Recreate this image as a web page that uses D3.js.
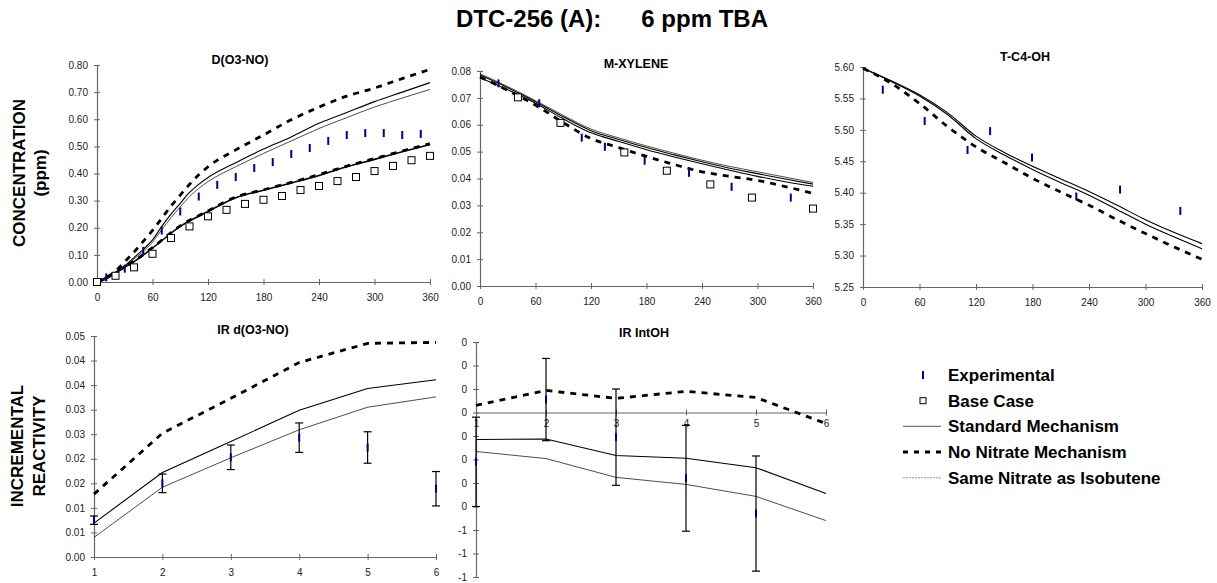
<!DOCTYPE html>
<html>
<head>
<meta charset="utf-8">
<script src="https://cdn.jsdelivr.net/npm/d3@7.9.0/dist/d3.min.js"></script>
<style>
  body { margin: 0; background: #fff; }
  svg { font-family: "Liberation Sans", Arial, sans-serif; }
  .tick text { font-size: 10px; fill: #222; }
  .domain, .tick line { stroke: #666; }
</style>
</head>
<body>
<svg id="chart" width="1217" height="583"></svg>
<script>
// ---- data ----
const tMin = [0, 60, 120, 180, 240, 300, 360];

// D(O3-NO)
const dTimes = [0, 10, 20, 30, 40, 50, 60, 70, 80, 90, 100, 110, 120, 150, 180, 210, 240, 270, 300, 330, 360];
const dStd = [0, 0.01, 0.035, 0.06, 0.09, 0.12, 0.155, 0.205, 0.25, 0.29, 0.33, 0.36, 0.385, 0.44, 0.49, 0.535, 0.585, 0.625, 0.665, 0.70, 0.735];
const dSame = [0, 0.01, 0.033, 0.057, 0.085, 0.113, 0.147, 0.193, 0.237, 0.277, 0.315, 0.345, 0.37, 0.425, 0.474, 0.52, 0.566, 0.606, 0.645, 0.678, 0.71];
const dNoNit = [0, 0.015, 0.04, 0.075, 0.11, 0.15, 0.19, 0.235, 0.28, 0.32, 0.36, 0.395, 0.425, 0.487, 0.542, 0.598, 0.645, 0.685, 0.715, 0.75, 0.784];
const dBaseTimes = [0, 20, 40, 60, 90, 120, 150, 180, 210, 240, 270, 300, 330, 360];
const dBaseStd = [0, 0.035, 0.075, 0.125, 0.205, 0.26, 0.311, 0.338, 0.365, 0.393, 0.425, 0.452, 0.48, 0.507];
const dBaseNoNit = [0, 0.036, 0.077, 0.127, 0.207, 0.262, 0.313, 0.34, 0.367, 0.396, 0.427, 0.455, 0.483, 0.51];
const dExpT = [10, 30, 50, 70, 90, 110, 130, 150, 170, 190, 210, 230, 250, 270, 290, 310, 330, 350];
const dExp = [0.017, 0.049, 0.115, 0.19, 0.26, 0.315, 0.358, 0.387, 0.42, 0.442, 0.472, 0.494, 0.52, 0.542, 0.549, 0.549, 0.542, 0.546];
const dBaseExpT = [0, 20, 40, 60, 80, 100, 120, 140, 160, 180, 200, 220, 240, 260, 280, 300, 320, 340, 360];
const dBaseExp = [0, 0.023, 0.054, 0.104, 0.162, 0.205, 0.242, 0.266, 0.288, 0.303, 0.317, 0.339, 0.354, 0.372, 0.387, 0.409, 0.428, 0.449, 0.465];

// M-XYLENE
const mTimes = [0, 30, 60, 90, 120, 150, 180, 210, 240, 270, 300, 330, 360];
const mStd = [0.0785, 0.0738, 0.0686, 0.0630, 0.0578, 0.0545, 0.0515, 0.0488, 0.0462, 0.0438, 0.0418, 0.0398, 0.0379];
const mSame = [0.0790, 0.0742, 0.0690, 0.0635, 0.0584, 0.0551, 0.0521, 0.0494, 0.0468, 0.0445, 0.0425, 0.0405, 0.0385];
const mBaseStd = [0.0775, 0.0730, 0.0680, 0.0622, 0.0570, 0.0538, 0.0507, 0.0480, 0.0455, 0.0431, 0.0408, 0.0388, 0.0371];
const mNoNit = [0.0778, 0.0728, 0.0673, 0.0608, 0.0549, 0.0515, 0.0482, 0.0452, 0.0425, 0.0408, 0.0393, 0.0370, 0.0345];
const mExpT = [20, 64, 110, 135, 178, 226, 272, 336];
const mExp = [0.0754, 0.068, 0.0552, 0.0518, 0.0466, 0.0421, 0.0369, 0.0329];
const mBaseExpT = [41, 87, 156, 202, 249, 294, 360];
const mBaseExp = [0.0702, 0.0607, 0.0497, 0.0429, 0.0378, 0.0329, 0.0288];

// T-C4-OH
const tTimes = [0, 30, 60, 90, 120, 150, 180, 210, 240, 270, 300, 330, 360];
const tStd = [5.598, 5.578, 5.556, 5.527, 5.490, 5.464, 5.442, 5.422, 5.402, 5.380, 5.357, 5.337, 5.319];
const tSame = [5.598, 5.577, 5.554, 5.524, 5.486, 5.460, 5.437, 5.416, 5.396, 5.373, 5.350, 5.330, 5.311];
const tNoNit = [5.598, 5.574, 5.542, 5.505, 5.473, 5.448, 5.423, 5.401, 5.380, 5.357, 5.335, 5.314, 5.294];
const tExpT = [21, 65.5, 111, 135, 179.5, 226.5, 273, 337];
const tExp = [5.5638, 5.514, 5.468, 5.498, 5.456, 5.394, 5.405, 5.371];

// IR d(O3-NO)
const runs = [1, 2, 3, 4, 5, 6];
const irdNoNit = [0.0128, 0.0252, 0.0323, 0.0396, 0.0435, 0.0437];
const irdStd = [0.0069, 0.0172, 0.0235, 0.0299, 0.0343, 0.0361];
const irdSame = [0.0040, 0.0142, 0.0202, 0.0259, 0.0305, 0.0326];
const irdExp = [0.0075, 0.0150, 0.0203, 0.0243, 0.0223, 0.0139];
const irdErr = [0.00085, 0.0019, 0.0025, 0.003, 0.0032, 0.0035];
const irdTicks = [0, 0.005, 0.01, 0.015, 0.02, 0.025, 0.03, 0.035, 0.04, 0.045];
const irdLabels = ['0.00', '0.01', '0.01', '0.02', '0.02', '0.03', '0.03', '0.04', '0.04', '0.05'];

// IR IntOH
const iroNoNit = [0.03, 0.094, 0.06, 0.09, 0.064, -0.047];
const iroStd = [-0.115, -0.113, -0.183, -0.195, -0.235, -0.345];
const iroSame = [-0.166, -0.196, -0.276, -0.306, -0.357, -0.46];
const iroExpRuns = [1, 2, 3, 4, 5];
const iroExp = [-0.21, 0.055, -0.105, -0.28, -0.43];
const iroErr = [0.19, 0.175, 0.205, 0.225, 0.245];
const iroTicks = [-0.7, -0.6, -0.5, -0.4, -0.3, -0.2, -0.1, 0, 0.1, 0.2, 0.3];
const iroLabels = ['-1', '-1', '-1', '0', '0', '0', '0', '0', '0', '0', '0'];

const legendLabels = ['Experimental', 'Base Case', 'Standard Mechanism', 'No Nitrate Mechanism', 'Same Nitrate as Isobutene'];

// ---- drawing ----
const svg = d3.select('#chart');
const BLUE = '#000080';

svg.append('text')
  .attr('x', 612).attr('y', 27)
  .attr('text-anchor', 'middle')
  .attr('font-size', 24).attr('font-weight', 'bold')
  .style('white-space', 'pre')
  .text('DTC-256 (A):      6 ppm TBA');

// rotated axis titles
function sideTitle(lines, cy, xs) {
  lines.forEach((t, i) => {
    svg.append('text')
      .attr('transform', `translate(${xs[i]},${cy}) rotate(-90)`)
      .attr('text-anchor', 'middle')
      .attr('font-size', 17).attr('font-weight', 'bold')
      .text(t);
  });
}
sideTitle(['CONCENTRATION', '(ppm)'], 173, [25, 46]);
sideTitle(['INCREMENTAL', 'REACTIVITY'], 446, [23, 45]);

function panel(cfg) {
  const x = d3.scaleLinear().domain(cfg.xDomain).range([cfg.left, cfg.right]);
  const y = d3.scaleLinear().domain(cfg.yDomain).range([cfg.bottom, cfg.top]);
  const g = svg.append('g');
  const xAxisY = cfg.xAxisAt !== undefined ? y(cfg.xAxisAt) : cfg.bottom;

  const yAxis = g.append('g')
    .attr('transform', `translate(${cfg.left},0)`)
    .call(d3.axisLeft(y).tickValues(cfg.yTicks)
      .tickFormat((d, i) => cfg.yLabels ? cfg.yLabels[i] : d3.format(cfg.yFmt)(d))
      .tickSizeInner(3).tickSizeOuter(0).tickPadding(6));
  yAxis.selectAll('.tick line').attr('x1', 3);

  const xAxis = g.append('g')
    .attr('transform', `translate(0,${xAxisY})`)
    .call(d3.axisBottom(x).tickValues(cfg.xTicks).tickFormat(d3.format('d'))
      .tickSizeInner(3).tickSizeOuter(0).tickPadding(cfg.xPad || 9));
  xAxis.selectAll('.tick line').attr('y1', -3);
  g.selectAll('.domain').attr('stroke-width', 1.2);

  g.append('text')
    .attr('x', cfg.titleX).attr('y', cfg.titleY)
    .attr('text-anchor', 'middle')
    .attr('font-size', 12.5).attr('font-weight', 'bold')
    .text(cfg.title);

  return { g, x, y };
}

function line(p, xs, ys, style, curve) {
  const gen = d3.line()
    .x((d, i) => p.x(xs[i]))
    .y(d => p.y(d))
    .curve(curve || d3.curveMonotoneX);
  p.g.append('path')
    .attr('d', gen(ys))
    .attr('fill', 'none')
    .attr('stroke', '#000')
    .attr('stroke-width', style.w)
    .attr('stroke-dasharray', style.dash || null);
}

function expMarks(p, xs, ys) {
  p.g.selectAll(null).data(ys).enter().append('rect')
    .attr('x', (d, i) => p.x(xs[i]) - 1)
    .attr('y', d => p.y(d) - 4)
    .attr('width', 2).attr('height', 8)
    .attr('fill', BLUE);
}

function squares(p, xs, ys) {
  p.g.selectAll(null).data(ys).enter().append('rect')
    .attr('x', (d, i) => p.x(xs[i]) - 3.5)
    .attr('y', d => p.y(d) - 3.5)
    .attr('width', 7).attr('height', 7)
    .attr('fill', '#fff').attr('stroke', '#000').attr('stroke-width', 1);
}

function errBars(p, xs, ys, errs) {
  const eb = p.g.selectAll(null).data(ys).enter().append('g');
  eb.append('line')
    .attr('x1', (d, i) => p.x(xs[i])).attr('x2', (d, i) => p.x(xs[i]))
    .attr('y1', (d, i) => p.y(d + errs[i])).attr('y2', (d, i) => p.y(d - errs[i]));
  eb.append('line')
    .attr('x1', (d, i) => p.x(xs[i]) - 4).attr('x2', (d, i) => p.x(xs[i]) + 4)
    .attr('y1', (d, i) => p.y(d + errs[i])).attr('y2', (d, i) => p.y(d + errs[i]));
  eb.append('line')
    .attr('x1', (d, i) => p.x(xs[i]) - 4).attr('x2', (d, i) => p.x(xs[i]) + 4)
    .attr('y1', (d, i) => p.y(d - errs[i])).attr('y2', (d, i) => p.y(d - errs[i]));
  eb.selectAll('line').attr('stroke', '#000').attr('stroke-width', 1.2);
}

const STD = { w: 1.1 };
const SAME = { w: 0.7 };
const NONIT = { w: 2.8, dash: '6,6' };

// D(O3-NO)
const p1 = panel({
  left: 97, right: 430, top: 65, bottom: 282,
  xDomain: [0, 360], yDomain: [0, 0.8],
  xTicks: tMin, yTicks: d3.range(0, 0.81, 0.1), yFmt: '.2f',
  title: 'D(O3-NO)', titleX: 240, titleY: 64
});
line(p1, dBaseTimes, dBaseStd, { w: 1.6 });
line(p1, dBaseTimes, dBaseNoNit, NONIT);
line(p1, dTimes, dStd, STD);
line(p1, dTimes, dSame, SAME);
line(p1, dTimes, dNoNit, NONIT);
squares(p1, dBaseExpT, dBaseExp);
expMarks(p1, dExpT, dExp);

// M-XYLENE
const p2 = panel({
  left: 480, right: 813, top: 71, bottom: 286,
  xDomain: [0, 360], yDomain: [0, 0.08],
  xTicks: tMin, yTicks: d3.range(0, 0.0801, 0.01), yFmt: '.2f',
  title: 'M-XYLENE', titleX: 636, titleY: 68
});
line(p2, mTimes, mSame, SAME);
line(p2, mTimes, mStd, STD);
line(p2, mTimes, mBaseStd, STD);
line(p2, mTimes, mNoNit, NONIT);
squares(p2, mBaseExpT, mBaseExp);
expMarks(p2, mExpT, mExp);

// T-C4-OH
const p3 = panel({
  left: 863, right: 1202, top: 67, bottom: 287,
  xDomain: [0, 360], yDomain: [5.25, 5.60],
  xTicks: tMin, yTicks: d3.range(5.25, 5.601, 0.05), yFmt: '.2f',
  title: 'T-C4-OH', titleX: 1025, titleY: 61
});
line(p3, tTimes, tStd, STD);
line(p3, tTimes, tSame, STD);
line(p3, tTimes, tNoNit, NONIT);
expMarks(p3, tExpT, tExp);

// IR d(O3-NO)
const p4 = panel({
  left: 94, right: 436, top: 336, bottom: 557,
  xDomain: [1, 6], yDomain: [0, 0.045],
  xTicks: runs, yTicks: irdTicks, yLabels: irdLabels,
  title: 'IR d(O3-NO)', titleX: 253, titleY: 334
});
line(p4, runs, irdNoNit, NONIT, d3.curveLinear);
line(p4, runs, irdStd, STD, d3.curveLinear);
line(p4, runs, irdSame, SAME, d3.curveLinear);
errBars(p4, runs, irdExp, irdErr);
expMarks(p4, runs, irdExp);

// IR IntOH
const p5 = panel({
  left: 476, right: 826, top: 342, bottom: 577,
  xDomain: [1, 6], yDomain: [-0.7, 0.3], xAxisAt: 0, xPad: 4,
  xTicks: runs, yTicks: iroTicks, yLabels: iroLabels,
  title: 'IR IntOH', titleX: 644, titleY: 337
});
line(p5, runs, iroNoNit, NONIT, d3.curveLinear);
line(p5, runs, iroStd, STD, d3.curveLinear);
line(p5, runs, iroSame, SAME, d3.curveLinear);
errBars(p5, iroExpRuns, iroExp, iroErr);
expMarks(p5, iroExpRuns, iroExp);

// legend
const lg = svg.append('g').attr('transform', 'translate(903,375)');
const rowH = 25.7;
legendLabels.forEach((lab, i) => {
  const row = lg.append('g').attr('transform', `translate(0,${i * rowH})`);
  if (i === 0) {
    row.append('rect').attr('x', 19).attr('y', -4).attr('width', 2).attr('height', 8).attr('fill', BLUE);
  } else if (i === 1) {
    row.append('rect').attr('x', 17).attr('y', -3).attr('width', 6).attr('height', 6)
      .attr('fill', '#fff').attr('stroke', '#000');
  } else {
    const st = [null, null, { w: 1.3, c: '#777' }, { w: 3, c: '#000', dash: '5,6' }, { w: 0.8, c: '#777', dash: '2,1' }][i];
    row.append('line').attr('x1', 0).attr('x2', 38).attr('y1', 0).attr('y2', 0)
      .attr('stroke', st.c).attr('stroke-width', st.w).attr('stroke-dasharray', st.dash || null);
  }
  row.append('text')
    .attr('x', 45).attr('y', 6)
    .attr('font-size', 17).attr('font-weight', 'bold')
    .text(lab);
});
</script>
</body>
</html>
